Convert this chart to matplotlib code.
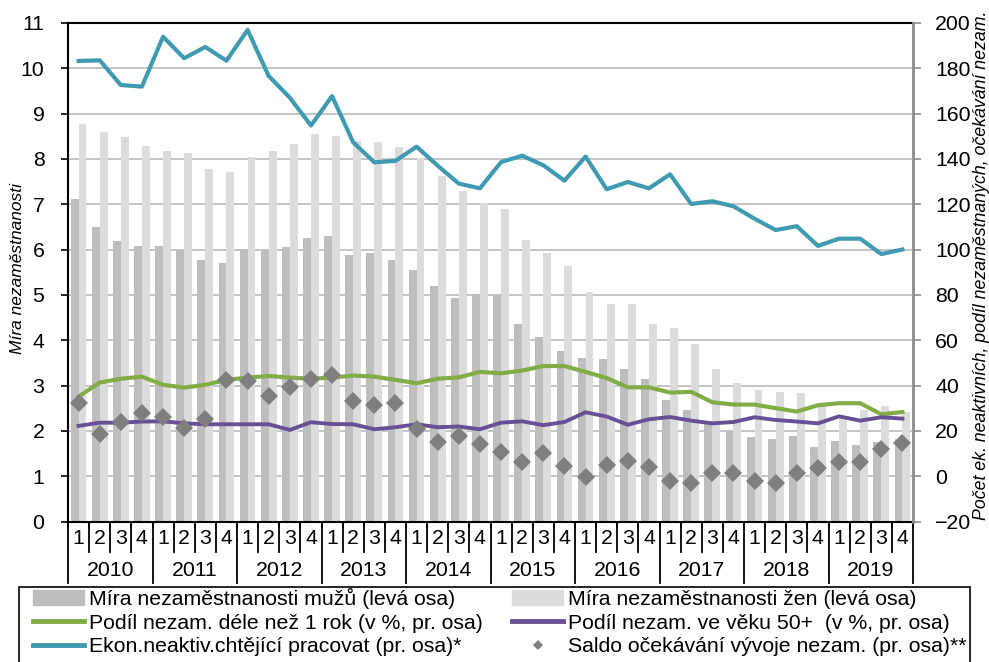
import matplotlib
matplotlib.use("Agg")
import matplotlib.pyplot as plt
import matplotlib.transforms as mtransforms
from matplotlib.patches import Patch, Rectangle
from matplotlib.lines import Line2D
import numpy as np

plt.rcParams['font.family'] = ['Liberation Sans', 'DejaVu Sans']

years = ["2010", "2011", "2012", "2013", "2014", "2015", "2016", "2017", "2018", "2019"]
quarters = ["1", "2", "3", "4"]

men = [7.11, 6.50, 6.18, 6.08, 6.08, 6.00, 5.77, 5.70, 6.02, 5.97, 6.06, 6.26,
       6.29, 5.88, 5.92, 5.76, 5.55, 5.20, 4.93, 5.03, 5.00, 4.36, 4.06, 3.77,
       3.61, 3.58, 3.37, 3.14, 2.68, 2.47, 2.20, 2.02, 1.86, 1.83, 1.89, 1.64,
       1.78, 1.69, 1.76, 1.82]
women = [8.77, 8.59, 8.49, 8.29, 8.18, 8.13, 7.78, 7.72, 8.04, 8.17, 8.33, 8.54,
         8.51, 8.39, 8.38, 8.26, 8.03, 7.63, 7.30, 7.03, 6.89, 6.22, 5.93, 5.64,
         5.07, 4.80, 4.80, 4.36, 4.27, 3.91, 3.37, 3.05, 2.91, 2.86, 2.83, 2.58,
         2.31, 2.47, 2.55, 2.41]
long_term = [35.1, 41.3, 43.0, 43.9, 40.3, 39.1, 40.3, 42.5, 43.5, 44.2, 43.5, 43.0,
             43.5, 44.4, 43.9, 42.5, 41.0, 43.0, 43.6, 46.0, 45.4, 46.6, 48.6, 48.6,
             46.0, 43.3, 39.2, 39.2, 36.9, 37.2, 32.6, 31.6, 31.6, 30.0, 28.5, 31.3,
             32.2, 32.2, 27.3, 28.3]
age50 = [22.2, 23.6, 23.6, 24.1, 24.2, 23.3, 22.9, 22.9, 22.9, 22.9, 20.4, 23.8,
         23.0, 22.9, 20.7, 21.6, 22.9, 21.6, 21.9, 20.7, 23.6, 24.2, 22.5, 23.9,
         28.2, 26.3, 22.7, 25.1, 26.1, 24.5, 23.3, 23.9, 26.0, 24.8, 24.1, 23.3,
         26.4, 24.5, 26.0, 25.4]
inactive = [183.2, 183.5, 172.6, 171.9, 193.9, 184.4, 189.4, 183.3, 196.9, 176.6,
            167.0, 154.7, 167.7, 147.3, 138.5, 139.1, 145.4, 137.0, 129.1, 127.0,
            138.6, 141.4, 137.2, 130.4, 141.0, 126.6, 129.8, 127.0, 133.2, 120.1,
            121.3, 119.1, 113.6, 108.6, 110.3, 101.6, 104.8, 104.8, 98.0, 100.0]
saldo = [32.2, 18.5, 24.1, 27.8, 26.3, 21.4, 25.1, 42.3, 41.9, 35.5, 39.5, 42.9,
         44.5, 33.2, 31.4, 32.3, 20.8, 15.0, 17.9, 14.2, 10.5, 6.1, 10.1, 4.7,
         -0.3, 5.0, 6.7, 3.9, -2.0, -3.1, 1.6, 1.4, -2.2, -2.9, 1.6, 3.5,
         6.3, 6.3, 11.9, 14.8]

lbl_men = "Míra nezaměstnanosti mužů (levá osa)"
lbl_women = "Míra nezaměstnanosti žen (levá osa)"
lbl_long = "Podíl nezam. déle než 1 rok (v %, pr. osa)"
lbl_50 = "Podíl nezam. ve věku 50+  (v %, pr. osa)"
lbl_inact = "Ekon.neaktiv.chtějící pracovat (pr. osa)*"
lbl_saldo = "Saldo očekávání vývoje nezam. (pr. osa)**"
ylab_left = "Míra nezaměstnanosti"
ylab_right = "Počet ek. neaktivních, podíl nezaměstnaných, očekávání nezam."

c_men = "#BEBEBE"
c_women = "#DCDCDC"
c_green = "#84AC46"
c_purple = "#685094"
c_teal = "#409AB2"
c_dia = "#7F7F7F"

FS = 15.3
W, H = 989, 662
fig = plt.figure(figsize=(W / 100, H / 100), dpi=100)
x0, x1, ytop, ybot = 68, 913, 22.9, 521.5
ax = fig.add_axes([x0 / W, 1 - ybot / H, (x1 - x0) / W, (ybot - ytop) / H])
ax2 = ax.twinx()

n = len(men)
x = np.arange(n)
bw = 0.37
ax.bar(x - bw / 2, men, width=bw, color=c_men, zorder=2)
ax.bar(x + bw / 2, women, width=bw, color=c_women, zorder=2)
ax.set_xlim(-0.5, n - 0.5)
ax.set_ylim(0, 11)
ax.set_yticks(range(0, 12))
ax.set_axisbelow(True)
ax.yaxis.grid(True, color="#C0C0C0", linewidth=1.3)
ax.tick_params(axis="y", direction="out", length=5, width=1.2, pad=12, labelsize=FS)
ax.set_xticks(np.arange(-0.5, n, 1.0))
ax.set_xticklabels([])
ax.tick_params(axis="x", direction="out", length=4, width=1.2)
for s in ["left", "top", "bottom"]:
    ax.spines[s].set_color("black")
    ax.spines[s].set_linewidth(1.5)
ax.spines["right"].set_visible(False)

ax2.plot(x, long_term, color=c_green, lw=3.0, zorder=3, solid_joinstyle="round")
ax2.plot(x, age50, color=c_purple, lw=2.8, zorder=3, solid_joinstyle="round")
ax2.plot(x, inactive, color=c_teal, lw=3.0, zorder=3, solid_joinstyle="round")
ax2.plot(x, saldo, linestyle="none", marker="D", ms=9.5, color=c_dia,
         markeredgewidth=0, zorder=4)
ax2.set_ylim(-20, 200)
ax2.set_yticks(range(-20, 201, 20))
ax2.tick_params(axis="y", direction="out", length=6, width=1.2, color="#8C8C8C",
                pad=10, labelsize=FS)
ax2.spines["right"].set_color("#8C8C8C")
ax2.spines["right"].set_linewidth(2)
for s in ["left", "top", "bottom"]:
    ax2.spines[s].set_visible(False)

fig.text(18 / W, 1 - 268 / H, ylab_left, rotation=90, ha="center", va="center",
         fontsize=12.5, style="italic")
fig.text(982 / W, 1 - 265 / H, ylab_right, rotation=90, ha="center", va="center",
         fontsize=12.8, style="italic")

# two-level category axis
trans = mtransforms.blended_transform_factory(ax.transData, ax.transAxes)
ph = ybot - ytop
yq = -(539 - ybot) / ph
yy = -(570 - ybot) / ph
yq_end = -(552 - ybot) / ph
yy_end = -(583 - ybot) / ph
for i in range(n):
    ax.text(i, yq, quarters[i % 4], transform=trans, ha="center", va="center",
            fontsize=FS)
for j, yr in enumerate(years):
    ax.text(j * 4 + 1.5, yy, yr, transform=trans, ha="center", va="center",
            fontsize=FS)
for b in range(n + 1):
    end = yy_end if b % 4 == 0 else yq_end
    ax.plot([b - 0.5, b - 0.5], [0, end], transform=trans, color="black",
            lw=1.3, clip_on=False)

# legend
handles = [Patch(color=c_men), Line2D([], [], color=c_green, lw=3.5),
           Line2D([], [], color=c_teal, lw=3.5),
           Patch(color=c_women), Line2D([], [], color=c_purple, lw=3.5),
           Line2D([], [], marker="D", ms=5, ls="none", color=c_dia, markeredgewidth=0)]
labels = [lbl_men, lbl_long, lbl_inact, lbl_women, lbl_50, lbl_saldo]
fig.legend(handles, labels, ncol=2, loc="upper left", mode="expand",
           bbox_to_anchor=(33 / W, 1 - 588 / H, (967 - 33) / W, 0),
           frameon=False, borderpad=0, borderaxespad=0, fontsize=FS,
           handlelength=2.4, handletextpad=0.25, labelspacing=0.22,
           columnspacing=1.0)
fig.patches.append(Rectangle((19 / W, -0.05), (970 - 19) / W, 0.05 + 1 - 587 / H,
                             transform=fig.transFigure, facecolor="none",
                             edgecolor="black", lw=1.2))

fig.savefig("out.png", dpi=100)
